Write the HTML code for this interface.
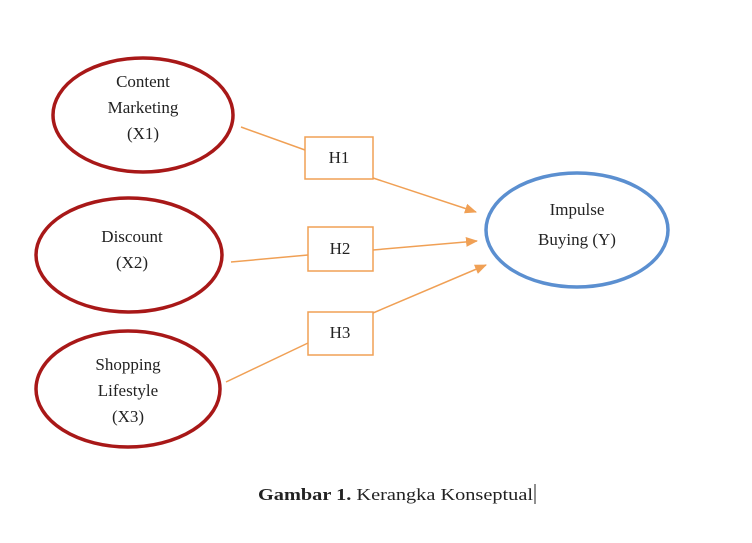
<!DOCTYPE html>
<html><head><style>
html,body{margin:0;padding:0;background:#fff;}
svg{display:block;}
text{font-family:"Liberation Serif",serif;font-size:17px;fill:#222;}
</style></head><body>
<svg width="752" height="543" viewBox="0 0 752 543" xmlns="http://www.w3.org/2000/svg">
<defs><marker id="a" markerWidth="12" markerHeight="10" refX="11" refY="5" orient="auto" markerUnits="userSpaceOnUse"><path d="M0,0 L12,5 L0,10 Z" fill="#f0a055"/></marker></defs>
<g fill="none" stroke="#a81818" stroke-width="3.5">
<ellipse cx="143" cy="115" rx="90" ry="57"/>
<ellipse cx="129" cy="255" rx="93" ry="57"/>
<ellipse cx="128" cy="389" rx="92" ry="58"/>
</g>
<ellipse cx="577" cy="230" rx="91" ry="57" fill="none" stroke="#5b8fd0" stroke-width="3.5"/>
<g stroke="#f0a055" stroke-width="1.5" fill="#fff">
<line x1="241" y1="127" x2="305" y2="150"/>
<line x1="231" y1="262" x2="308" y2="255"/>
<line x1="226" y1="382" x2="308" y2="343"/>
<line x1="373" y1="178" x2="476" y2="212" marker-end="url(#a)"/>
<line x1="373" y1="250" x2="477" y2="241" marker-end="url(#a)"/>
<line x1="373" y1="313" x2="486" y2="265" marker-end="url(#a)"/>
<rect x="305" y="137" width="68" height="42"/>
<rect x="308" y="227" width="65" height="44"/>
<rect x="308" y="312" width="65" height="43"/>
</g>
<g text-anchor="middle">
<text x="143" y="87">Content</text>
<text x="143" y="113">Marketing</text>
<text x="143" y="139">(X1)</text>
<text x="132" y="242">Discount</text>
<text x="132" y="268">(X2)</text>
<text x="128" y="370">Shopping</text>
<text x="128" y="396">Lifestyle</text>
<text x="128" y="422">(X3)</text>
<text x="577" y="215">Impulse</text>
<text x="577" y="245">Buying (Y)</text>
<text x="339" y="163">H1</text>
<text x="340" y="254">H2</text>
<text x="340" y="338">H3</text>
</g>
<text x="258" y="500" style="font-size:17px" textLength="275" lengthAdjust="spacingAndGlyphs"><tspan font-weight="bold">Gambar 1.</tspan> Kerangka Konseptual</text>
<line x1="535" y1="484" x2="535" y2="504" stroke="#222" stroke-width="1"/>
</svg>
</body></html>
